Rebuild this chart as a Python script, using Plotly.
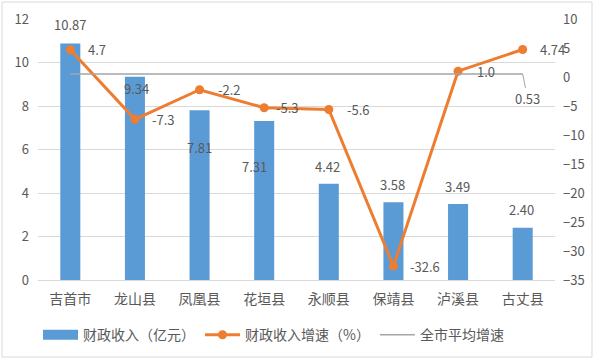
import plotly.graph_objects as go

categories = ['吉首市', '龙山县', '凤凰县', '花垣县', '永顺县', '保靖县', '泸溪县', '古丈县']
revenue = [10.87, 9.34, 7.81, 7.31, 4.42, 3.58, 3.49, 2.40]
growth = [4.7, -7.3, -2.2, -5.3, -5.6, -32.6, 1.0, 4.74]
growth_labels = ['4.7', '-7.3', '-2.2', '-5.3', '-5.6', '-32.6', '1.0', '4.74']
city_avg = 0.53
left_ticks = [0, 2, 4, 6, 8, 10, 12]
right_ticks = [10, 5, 0, -5, -10, -15, -20, -25, -30, -35]

# label placement offsets (pixels), style only
bar_label_dy = [19, -12, -37, -45, 17, 18, 18, 18]
bar_label_dx = [0, 2, 0, -10, -1, -1, -1, -1]
line_label_dx = [16, 15, 16, 10, 16, 15, 17, 15]

FONT = "Microsoft YaHei, Noto Sans CJK SC, sans-serif"
TXT = "#595959"
BLUE = "#5B9BD5"
ORANGE = "#ED7D31"
GRAY = "#A5A5A5"

fig = go.Figure()
fig.add_trace(go.Bar(x=categories, y=revenue, name='财政收入（亿元）', showlegend=False,
                     marker=dict(color=BLUE, line=dict(width=0)), width=0.31,
                     yaxis='y'))
fig.add_trace(go.Scatter(x=categories, y=growth, name='财政收入增速（%）',
                         mode='lines+markers', yaxis='y2', legendrank=2,
                         line=dict(color=ORANGE, width=3),
                         marker=dict(color=ORANGE, size=9)))
fig.add_trace(go.Scatter(x=categories, y=[city_avg] * len(categories), name='全市平均增速',
                         mode='lines', yaxis='y2', legendrank=3,
                         line=dict(color=GRAY, width=1.5)))
# legend-only entry giving the bar series a wide rectangular legend swatch
fig.add_trace(go.Scatter(x=[categories[0]], y=[None], name='财政收入（亿元）', mode='lines',
                         legendrank=1, line=dict(color=BLUE, width=10), hoverinfo='skip'))

annotations = []
for i, (c, v) in enumerate(zip(categories, revenue)):
    annotations.append(dict(x=c, y=v, xref='x', yref='y', text=f"{v:.2f}",
                            showarrow=False, yshift=bar_label_dy[i], xshift=bar_label_dx[i],
                            font=dict(family=FONT, size=13, color=TXT)))
for i, (c, v) in enumerate(zip(categories, growth)):
    annotations.append(dict(x=c, y=v, xref='x', yref='y2', text=growth_labels[i],
                            showarrow=False, xanchor='left', xshift=line_label_dx[i],
                            font=dict(family=FONT, size=13, color=TXT)))
annotations.append(dict(x=categories[-1], y=city_avg, xref='x', yref='y2',
                        text=f"{city_avg:.2f}", showarrow=True, arrowhead=0,
                        arrowwidth=1, arrowcolor=GRAY, ax=5, ay=25,
                        font=dict(family=FONT, size=13, color=TXT)))

fig.update_layout(
    template='none',
    width=597, height=359,
    margin=dict(l=38, r=42, t=19, b=79, autoexpand=False),
    paper_bgcolor='white', plot_bgcolor='white',
    font=dict(family=FONT, color=TXT, size=13),
    showlegend=True,
    legend=dict(orientation='h', x=0.0, xanchor='left', y=-0.15, yanchor='top',
                font=dict(family=FONT, size=14, color=TXT), itemwidth=35,
                traceorder='normal'),
    xaxis=dict(type='category', range=[-0.5, len(categories) - 0.5], showgrid=False,
               showline=True, linecolor='#D9D9D9', linewidth=1,
               tickfont=dict(family=FONT, size=14, color=TXT), ticks='',
               ticklabelstandoff=6, automargin=False),
    yaxis=dict(range=[0, 12], tickvals=left_ticks, showgrid=True, gridcolor='#D9D9D9',
               gridwidth=1, zeroline=False, showline=False, ticks='',
               tickfont=dict(family=FONT, size=13, color=TXT), ticklabelstandoff=8,
               automargin=False),
    yaxis2=dict(range=[-35, 10], tickvals=right_ticks, overlaying='y', side='right',
                showgrid=False, zeroline=False, showline=False, ticks='',
                tickfont=dict(family=FONT, size=13, color=TXT), ticklabelstandoff=7,
                automargin=False),
    annotations=annotations,
    shapes=[dict(type='rect', xref='paper', yref='paper',
                 x0=(2 - 38) / 517, x1=(592 - 38) / 517,
                 y0=(280 - 357) / 261, y1=(280 - 2) / 261,
                 line=dict(color='#D9D9D9', width=1), layer='above')],
)

fig.write_html("out.html", config={'displayModeBar': False},
               post_script="document.body.style.margin='0';document.body.style.overflow='hidden';")
